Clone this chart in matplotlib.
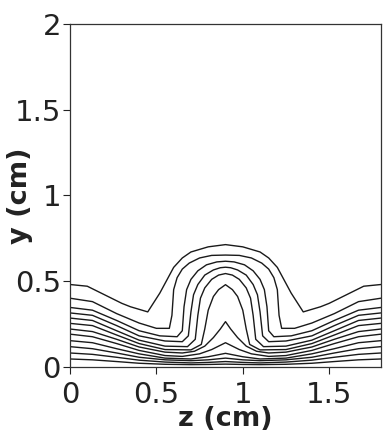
import matplotlib
matplotlib.use('Agg')
import matplotlib.pyplot as plt

plt.rcParams['font.family'] = ['DejaVu Sans']

# contour lines, z and y in cm
z1 = [0, 0.1, 0.2, 0.3, 0.35, 0.45, 0.52, 0.6, 0.65, 0.7, 0.8, 0.9, 1.0, 1.1, 1.15, 1.2, 1.28, 1.35, 1.45, 1.5, 1.6, 1.7, 1.8]
y1 = [0.48, 0.47, 0.42, 0.37, 0.35, 0.32, 0.43, 0.58, 0.635, 0.67, 0.70, 0.713, 0.70, 0.67, 0.635, 0.58, 0.43, 0.32, 0.35, 0.37, 0.42, 0.47, 0.48]

z2 = [0, 0.13, 0.27, 0.4, 0.5, 0.575, 0.59, 0.6, 0.62, 0.65, 0.69, 0.75, 0.82, 0.9, 0.98, 1.05, 1.11, 1.15, 1.18, 1.2, 1.21, 1.225, 1.3, 1.4, 1.53, 1.67, 1.8]
y2 = [0.40, 0.38, 0.31, 0.255, 0.224, 0.224, 0.30, 0.45, 0.52, 0.57, 0.605, 0.635, 0.65, 0.652, 0.65, 0.635, 0.605, 0.57, 0.52, 0.45, 0.30, 0.224, 0.224, 0.255, 0.31, 0.38, 0.40]

z3 = [0, 0.13, 0.27, 0.4, 0.52, 0.62, 0.65, 0.66, 0.675, 0.7, 0.74, 0.79, 0.85, 0.9, 0.95, 1.01, 1.06, 1.1, 1.125, 1.14, 1.15, 1.18, 1.28, 1.4, 1.53, 1.67, 1.8]
y3 = [0.346, 0.33, 0.27, 0.21, 0.18, 0.175, 0.21, 0.35, 0.45, 0.51, 0.56, 0.595, 0.612, 0.616, 0.612, 0.595, 0.56, 0.51, 0.45, 0.35, 0.21, 0.175, 0.18, 0.21, 0.27, 0.33, 0.346]

z4 = [0, 0.13, 0.27, 0.4, 0.55, 0.65, 0.685, 0.7, 0.715, 0.74, 0.78, 0.83, 0.87, 0.9, 0.93, 0.97, 1.02, 1.06, 1.085, 1.1, 1.115, 1.15, 1.25, 1.4, 1.53, 1.67, 1.8]
y4 = [0.314, 0.30, 0.24, 0.18, 0.15, 0.146, 0.18, 0.32, 0.42, 0.48, 0.535, 0.565, 0.578, 0.581, 0.578, 0.565, 0.535, 0.48, 0.42, 0.32, 0.18, 0.146, 0.15, 0.18, 0.24, 0.30, 0.314]

z5 = [0, 0.13, 0.27, 0.4, 0.55, 0.68, 0.725, 0.74, 0.755, 0.78, 0.82, 0.86, 0.9, 0.94, 0.98, 1.02, 1.045, 1.06, 1.075, 1.12, 1.25, 1.4, 1.53, 1.67, 1.8]
y5 = [0.284, 0.27, 0.21, 0.155, 0.12, 0.117, 0.16, 0.30, 0.40, 0.46, 0.51, 0.535, 0.544, 0.535, 0.51, 0.46, 0.40, 0.30, 0.16, 0.117, 0.12, 0.155, 0.21, 0.27, 0.284]

z6 = [0, 0.13, 0.27, 0.4, 0.55, 0.7, 0.76, 0.78, 0.8, 0.83, 0.86, 0.9, 0.94, 0.97, 1.0, 1.02, 1.04, 1.1, 1.25, 1.4, 1.53, 1.67, 1.8]
y6 = [0.253, 0.24, 0.185, 0.135, 0.10, 0.098, 0.13, 0.22, 0.33, 0.41, 0.45, 0.479, 0.45, 0.41, 0.33, 0.22, 0.13, 0.098, 0.10, 0.135, 0.185, 0.24, 0.253]

z7 = [0, 0.13, 0.27, 0.4, 0.55, 0.65, 0.72, 0.78, 0.83, 0.87, 0.9, 0.93, 0.97, 1.02, 1.08, 1.15, 1.25, 1.4, 1.53, 1.67, 1.8]
y7 = [0.22, 0.205, 0.16, 0.115, 0.085, 0.08, 0.09, 0.12, 0.17, 0.22, 0.263, 0.22, 0.17, 0.12, 0.09, 0.08, 0.085, 0.115, 0.16, 0.205, 0.22]

z8 = [0, 0.13, 0.27, 0.4, 0.55, 0.65, 0.75, 0.82, 0.87, 0.9, 0.93, 0.98, 1.05, 1.15, 1.25, 1.4, 1.53, 1.67, 1.8]
y8 = [0.19, 0.175, 0.135, 0.095, 0.065, 0.06, 0.075, 0.10, 0.125, 0.14, 0.125, 0.10, 0.075, 0.06, 0.065, 0.095, 0.135, 0.175, 0.19]

z_low = [0, 0.13, 0.27, 0.4, 0.55, 0.7, 0.8, 0.9, 1.0, 1.1, 1.25, 1.4, 1.53, 1.67, 1.8]
y9 = [0.152, 0.14, 0.105, 0.075, 0.05, 0.045, 0.058, 0.078, 0.058, 0.045, 0.05, 0.075, 0.105, 0.14, 0.152]
y10 = [0.117, 0.105, 0.08, 0.055, 0.04, 0.035, 0.04, 0.05, 0.04, 0.035, 0.04, 0.055, 0.08, 0.105, 0.117]
y11 = [0.08, 0.072, 0.055, 0.038, 0.027, 0.022, 0.025, 0.03, 0.025, 0.022, 0.027, 0.038, 0.055, 0.072, 0.08]
y12 = [0.045, 0.04, 0.03, 0.02, 0.014, 0.012, 0.013, 0.015, 0.013, 0.012, 0.014, 0.02, 0.03, 0.04, 0.045]

curves = [(z1, y1), (z2, y2), (z3, y3), (z4, y4), (z5, y5), (z6, y6), (z7, y7), (z8, y8),
          (z_low, y9), (z_low, y10), (z_low, y11), (z_low, y12)]

xticks = [0, 0.5, 1, 1.5]
xticklabels = ['0', '0.5', '1', '1.5']
yticks = [0, 0.5, 1, 1.5, 2]
yticklabels = ['0', '0.5', '1', '1.5', '2']

fig = plt.figure(figsize=(3.85, 4.32), dpi=100)
ax = fig.add_axes([0.1818, 0.1512, 0.8078, 0.7926])
for zz, yy in curves:
    ax.plot(zz, yy, color='#1a1a1a', lw=1.0)

ax.set_xlim(0, 1.8)
ax.set_ylim(0, 2)
ax.set_xticks(xticks)
ax.set_xticklabels(xticklabels)
ax.set_yticks(yticks)
ax.set_yticklabels(yticklabels)
ax.tick_params(direction='out', length=5, width=0.8, labelsize=21, colors='#222222')
ax.tick_params(axis='x', pad=5)
ax.tick_params(axis='y', pad=1.5)
for s in ax.spines.values():
    s.set_linewidth(0.9)
    s.set_color('#333333')

ax.set_xlabel('z (cm)', fontsize=19.5, fontweight='bold', labelpad=-1.5, color='#222222')
ax.set_ylabel('y (cm)', fontsize=19.5, fontweight='bold', color='#222222')
ax.yaxis.set_label_coords(-0.12, 0.5)

plt.savefig('out.png', dpi=100)
